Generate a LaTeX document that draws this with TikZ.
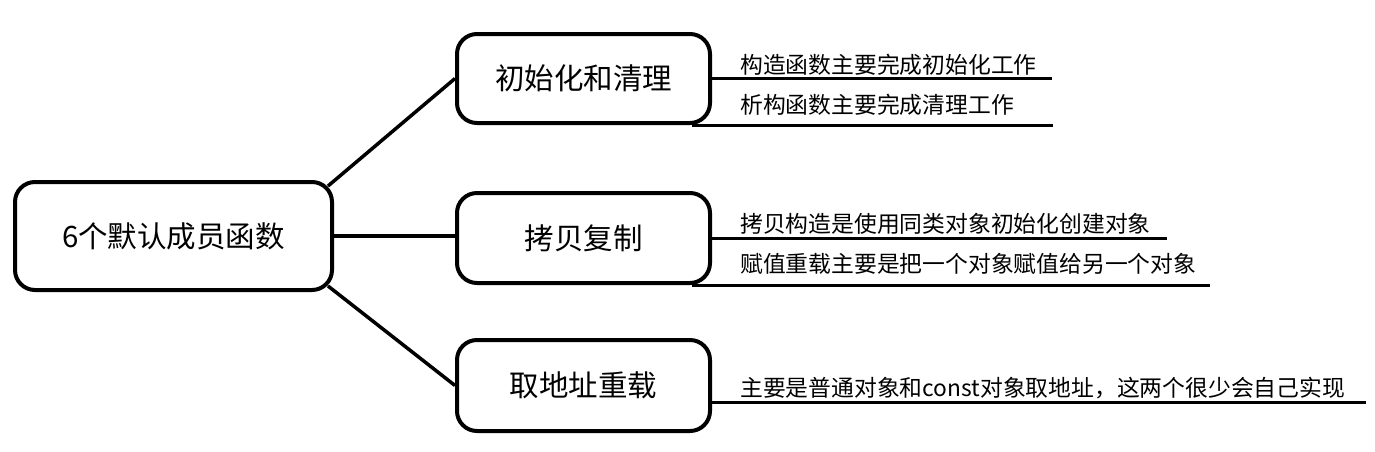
\documentclass[tikz,border=0pt]{standalone}
\usepackage{fontspec}
\setmainfont{Noto Sans CJK SC}
\usetikzlibrary{calc}
\begin{document}
\begin{tikzpicture}[x=1pt,y=-1pt,
  box/.style={draw, line width=4pt, rounded corners=20pt, inner sep=0pt, fill=white,
    font=\fontsize{29.5pt}{34pt}\selectfont},
  conn/.style={line width=3.5pt},
  uline/.style={line width=3pt},
  sub/.style={anchor=west, inner sep=0pt, font=\fontsize{22.8pt}{26pt}\selectfont}]
\useasboundingbox (0,0) rectangle (1375,451);
% boxes
\node[box, minimum width=317pt, minimum height=108pt] (main) at (173.5,236) {6个默认成员函数};
\node[box, minimum width=253pt, minimum height=89pt] (b2) at (583.5,78.5) {初始化和清理};
\node[box, minimum width=253pt, minimum height=90pt] (b3) at (583.5,238) {拷贝复制};
\node[box, minimum width=253pt, minimum height=91pt] (b4) at (583.5,385.5) {取地址重载};
% connectors
\draw[conn] ($(main.north east)+(-6,6)$) -- (b2.west);
\draw[conn] (main.east) -- (main.east -| b3.west);
\draw[conn] ($(main.south east)+(-6,-6)$) -- (b4.west);
% underlines
\draw[uline] (b2.east) -- ++(340,0) coordinate (e1);
\draw[uline] ($(b2.south east)+(-20,0)$) -- ++(361,0) coordinate (e2);
\draw[uline] (b3.east) -- ++(455,0) coordinate (e3);
\draw[uline] ($(b3.south east)+(-20,0)$) -- ++(518,0) coordinate (e4);
\draw[uline] ($(b4.east)+(0,16.5)$) -- ++(654,0) coordinate (e5);
% sub labels
\node[sub] (t1) at (740,65) {构造函数主要完成初始化工作};
\node[sub] (t2) at (740,104.5) {析构函数主要完成清理工作};
\node[sub] (t3) at (740,224) {拷贝构造是使用同类对象初始化创建对象};
\node[sub] (t4) at (740,263.5) {赋值重载主要是把一个对象赋值给另一个对象};
\node[sub] (t5) at (740,388) {主要是普通对象和const对象取地址，这两个很少会自己实现};
\end{tikzpicture}
\end{document}
